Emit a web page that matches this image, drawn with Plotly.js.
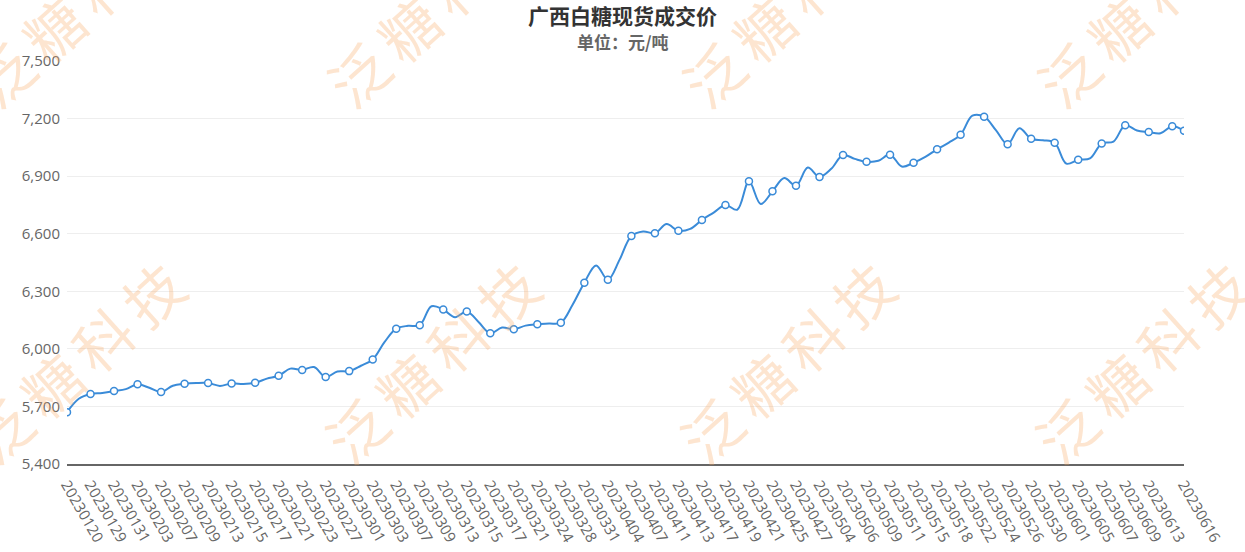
<!DOCTYPE html>
<html>
<head>
<meta charset="utf-8">
<script src="https://cdn.plot.ly/plotly-3.0.1.min.js"></script>
<style>
  html, body { margin: 0; padding: 0; background: #ffffff; }
  #chart { width: 1245px; height: 552px; }
</style>
</head>
<body>
<div id="chart"></div>
<script>
// ---- data ----
const dates = [
  '20230120','20230128','20230129','20230130','20230131','20230202','20230203','20230206',
  '20230207','20230208','20230209','20230210','20230213','20230214','20230215','20230216',
  '20230217','20230220','20230221','20230222','20230223','20230224','20230227','20230228',
  '20230301','20230302','20230303','20230306','20230307','20230308','20230309','20230310',
  '20230313','20230314','20230315','20230316','20230317','20230320','20230321','20230323',
  '20230324','20230327','20230328','20230330','20230331','20230403','20230404','20230406',
  '20230407','20230410','20230411','20230412','20230413','20230414','20230417','20230418',
  '20230419','20230420','20230421','20230424','20230425','20230426','20230427','20230428',
  '20230504','20230505','20230506','20230508','20230509','20230510','20230511','20230512',
  '20230515','20230517','20230518','20230519','20230522','20230523','20230524','20230525',
  '20230526','20230529','20230530','20230531','20230601','20230602','20230605','20230606',
  '20230607','20230608','20230609','20230612','20230613','20230614','20230615','20230616'
];
const prices = [
  5670, 5740, 5765, 5770, 5780, 5790, 5815, 5797,
  5775, 5808, 5818, 5822, 5822, 5807, 5820, 5817,
  5823, 5845, 5860, 5897, 5890, 5905, 5853, 5882,
  5884, 5912, 5945, 6035, 6105, 6120, 6123, 6222,
  6205, 6165, 6195, 6140, 6081, 6111, 6102, 6121,
  6128, 6132, 6136, 6230, 6345, 6435, 6360, 6465,
  6588, 6612, 6603, 6650, 6615, 6625, 6672, 6710,
  6750, 6725, 6873, 6755, 6821, 6890, 6850, 6945,
  6896, 6938, 7010, 6990, 6975, 6980, 7012, 6950,
  6970, 7000, 7040, 7075, 7116, 7215, 7210, 7140,
  7066, 7150, 7095, 7087, 7074, 6965, 6985, 6992,
  7070, 7080, 7165, 7138, 7130, 7123, 7160, 7137
];
const tickDates = [
  '20230120','20230129','20230131','20230203','20230207','20230209','20230213','20230215',
  '20230217','20230221','20230223','20230227','20230301','20230303','20230307','20230309',
  '20230313','20230315','20230317','20230321','20230324','20230328','20230331','20230404',
  '20230407','20230411','20230413','20230417','20230419','20230421','20230425','20230427',
  '20230504','20230506','20230509','20230511','20230515','20230518','20230522','20230524',
  '20230526','20230530','20230601','20230605','20230607','20230609','20230613','20230616'
];
const titleText = '广西白糖现货成交价';
const subtitleText = '单位：元/吨';
const watermarkText = '泛糖科技';

// ---- style ----
const W = 1245, H = 552;
const M = {l: 67, r: 61, t: 61, b: 88};
const lineColor = '#3a8bd8';
const tickFont = {family: 'Open Sans, Noto Sans CJK SC, sans-serif', size: 15, color: '#666666'};
const cjk = 'Noto Sans CJK SC, sans-serif';

const pw = W - M.l - M.r, ph = H - M.t - M.b;
const px2x = px => (px - M.l) / pw;
const px2y = py => (H - M.b - py) / ph;

// symbols shown on every other point and on the last one
const symDates = dates.filter((d, i) => i % 2 === 0 || i === dates.length - 1);
const symPrices = prices.filter((v, i) => i % 2 === 0 || i === dates.length - 1);

const traces = [
  {
    type: 'scatter', mode: 'lines', x: dates, y: prices,
    line: {color: lineColor, width: 2, shape: 'spline', smoothing: 1},
    hoverinfo: 'x+y'
  },
  {
    type: 'scatter', mode: 'markers', x: symDates, y: symPrices,
    marker: {symbol: 'circle', size: 7, color: '#ffffff', line: {color: lineColor, width: 1.5}},
    hoverinfo: 'x+y'
  }
];

// watermark centres (pixels)
const wmCenters = [
  [80, 358], [435, 358], [790, 358], [1145, 358],
  [82, 2], [437, 2], [792, 2], [1147, 2]
];
const annotations = wmCenters.map(([cx, cy]) => ({
  xref: 'paper', yref: 'paper', x: px2x(cx), y: px2y(cy),
  xanchor: 'center', yanchor: 'middle', showarrow: false,
  text: watermarkText, textangle: -42,
  font: {family: cjk, size: 58, color: 'rgba(250,170,100,0.30)'}
}));
annotations.push({
  xref: 'paper', yref: 'paper', x: px2x(622.5), y: px2y(41.7),
  xanchor: 'center', yanchor: 'middle', showarrow: false,
  text: subtitleText,
  font: {family: cjk, size: 17, color: '#666666', weight: 700}
});

const layout = {
  width: W, height: H,
  margin: {l: M.l, r: M.r, t: M.t, b: M.b, pad: 0},
  paper_bgcolor: '#ffffff', plot_bgcolor: 'rgba(0,0,0,0)',
  showlegend: false,
  title: {
    text: titleText, x: 0.5, xref: 'container', xanchor: 'center',
    y: 1 - 16.7 / H, yref: 'container', yanchor: 'middle',
    font: {family: cjk, size: 21, color: '#333333', weight: 700}
  },
  xaxis: {
    type: 'category', categoryorder: 'array', categoryarray: dates,
    range: [0, dates.length - 1],
    tickmode: 'array', tickvals: tickDates, ticktext: tickDates,
    tickangle: 60, tickfont: tickFont, ticklabelstandoff: 4,
    showgrid: false, zeroline: false,
    showline: true, linecolor: '#666666', linewidth: 2,
    ticks: '', fixedrange: true
  },
  yaxis: {
    range: [5400, 7500], tickmode: 'linear', tick0: 5400, dtick: 300,
    tickformat: ',d', tickfont: tickFont,
    showgrid: true, gridcolor: '#eeeeee', gridwidth: 1,
    zeroline: false, showline: false, ticks: '',
    ticklabelstandoff: 6, fixedrange: true
  },
  annotations: annotations
};

Plotly.newPlot('chart', traces, layout, {displayModeBar: false, staticPlot: true}).then(() => {
  document.querySelectorAll('.annotation-text').forEach(t => {
    if (t.textContent === watermarkText) t.style.letterSpacing = '10px';
  });
});
</script>
</body>
</html>
